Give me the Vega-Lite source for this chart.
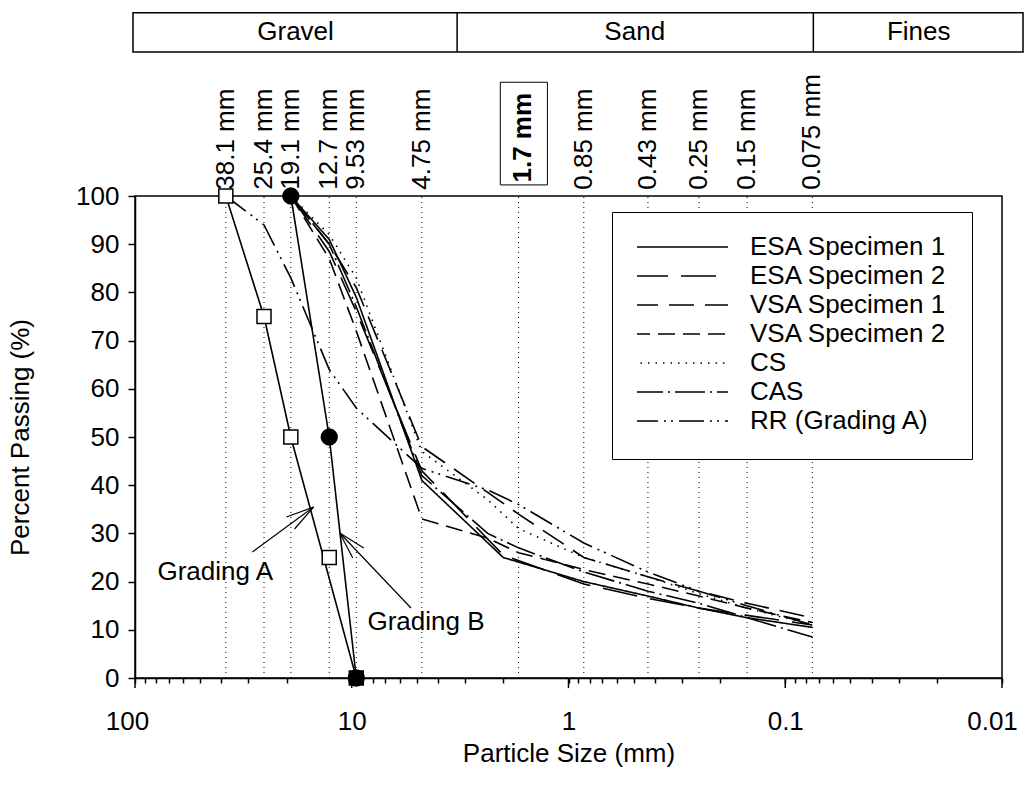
{
  "$schema": "https://vega.github.io/schema/vega-lite/v6.json",
  "autosize": {"type": "none"},
  "padding": {"left": 135, "top": 196, "right": 23, "bottom": 112},
  "width": 867,
  "height": 482,
  "background": "white",
  "config": {
    "font": "Liberation Sans",
    "view": {"stroke": "black", "strokeWidth": 1.5},
    "axis": {"labelFont": "Liberation Sans", "titleFont": "Liberation Sans", "labelFontSize": 26, "titleFontSize": 26, "labelColor": "black", "titleColor": "black", "titleFontWeight": "normal", "domainColor": "black", "tickColor": "black", "domainWidth": 1.5, "tickWidth": 1.5, "grid": false},
    "text": {"font": "Liberation Sans", "fontSize": 26, "color": "black"}
  },
  "datasets": {
    "sieves": [
      {"size": 38.1, "label": "38.1 mm"},
      {"size": 25.4, "label": "25.4 mm"},
      {"size": 19.1, "label": "19.1 mm"},
      {"size": 12.7, "label": "12.7 mm"},
      {"size": 9.53, "label": "9.53 mm"},
      {"size": 4.75, "label": "4.75 mm"},
      {"size": 1.7, "label": "1.7 mm"},
      {"size": 0.85, "label": "0.85 mm"},
      {"size": 0.43, "label": "0.43 mm"},
      {"size": 0.25, "label": "0.25 mm"},
      {"size": 0.15, "label": "0.15 mm"},
      {"size": 0.075, "label": "0.075 mm"}
    ],
    "majors": [{"v": 100}, {"v": 10}, {"v": 1}, {"v": 0.1}, {"v": 0.01}],
    "curves": [
      {"series": "ESA Specimen 1", "size": 19.1, "pct": 100},
      {"series": "ESA Specimen 1", "size": 12.7, "pct": 91},
      {"series": "ESA Specimen 1", "size": 9.53, "pct": 79},
      {"series": "ESA Specimen 1", "size": 4.75, "pct": 41},
      {"series": "ESA Specimen 1", "size": 2.0, "pct": 25},
      {"series": "ESA Specimen 1", "size": 0.85, "pct": 20},
      {"series": "ESA Specimen 1", "size": 0.43, "pct": 17},
      {"series": "ESA Specimen 1", "size": 0.25, "pct": 14.5},
      {"series": "ESA Specimen 1", "size": 0.15, "pct": 12.5},
      {"series": "ESA Specimen 1", "size": 0.075, "pct": 10.5},
      {"series": "ESA Specimen 2", "size": 19.1, "pct": 100},
      {"series": "ESA Specimen 2", "size": 12.7, "pct": 88.5},
      {"series": "ESA Specimen 2", "size": 9.53, "pct": 76},
      {"series": "ESA Specimen 2", "size": 4.75, "pct": 43},
      {"series": "ESA Specimen 2", "size": 2.0, "pct": 25.5},
      {"series": "ESA Specimen 2", "size": 0.85, "pct": 19.5},
      {"series": "ESA Specimen 2", "size": 0.43, "pct": 16.5},
      {"series": "ESA Specimen 2", "size": 0.25, "pct": 14.5},
      {"series": "ESA Specimen 2", "size": 0.15, "pct": 13},
      {"series": "ESA Specimen 2", "size": 0.075, "pct": 11},
      {"series": "VSA Specimen 1", "size": 19.1, "pct": 100},
      {"series": "VSA Specimen 1", "size": 12.7, "pct": 90},
      {"series": "VSA Specimen 1", "size": 9.53, "pct": 81},
      {"series": "VSA Specimen 1", "size": 4.75, "pct": 48},
      {"series": "VSA Specimen 1", "size": 2.36, "pct": 38.5},
      {"series": "VSA Specimen 1", "size": 1.7, "pct": 34},
      {"series": "VSA Specimen 1", "size": 0.85, "pct": 25},
      {"series": "VSA Specimen 1", "size": 0.43, "pct": 21},
      {"series": "VSA Specimen 1", "size": 0.25, "pct": 18},
      {"series": "VSA Specimen 1", "size": 0.15, "pct": 15.5},
      {"series": "VSA Specimen 1", "size": 0.075, "pct": 12.5},
      {"series": "VSA Specimen 2", "size": 19.1, "pct": 100},
      {"series": "VSA Specimen 2", "size": 12.7, "pct": 87},
      {"series": "VSA Specimen 2", "size": 9.53, "pct": 72},
      {"series": "VSA Specimen 2", "size": 4.75, "pct": 33},
      {"series": "VSA Specimen 2", "size": 2.36, "pct": 29},
      {"series": "VSA Specimen 2", "size": 1.7, "pct": 26},
      {"series": "VSA Specimen 2", "size": 0.85, "pct": 22.5},
      {"series": "VSA Specimen 2", "size": 0.43, "pct": 19.5},
      {"series": "VSA Specimen 2", "size": 0.25, "pct": 17},
      {"series": "VSA Specimen 2", "size": 0.15, "pct": 14.5},
      {"series": "VSA Specimen 2", "size": 0.075, "pct": 11.5},
      {"series": "CS", "size": 19.1, "pct": 100},
      {"series": "CS", "size": 12.7, "pct": 92},
      {"series": "CS", "size": 9.53, "pct": 83},
      {"series": "CS", "size": 4.75, "pct": 47},
      {"series": "CS", "size": 2.36, "pct": 37},
      {"series": "CS", "size": 1.7, "pct": 31},
      {"series": "CS", "size": 0.85, "pct": 25},
      {"series": "CS", "size": 0.43, "pct": 21},
      {"series": "CS", "size": 0.25, "pct": 17.5},
      {"series": "CS", "size": 0.15, "pct": 14.5},
      {"series": "CS", "size": 0.075, "pct": 11},
      {"series": "CAS", "size": 19.1, "pct": 100},
      {"series": "CAS", "size": 12.7, "pct": 90},
      {"series": "CAS", "size": 9.53, "pct": 77},
      {"series": "CAS", "size": 4.75, "pct": 42},
      {"series": "CAS", "size": 2.36, "pct": 30},
      {"series": "CAS", "size": 1.7, "pct": 27},
      {"series": "CAS", "size": 0.85, "pct": 22},
      {"series": "CAS", "size": 0.43, "pct": 18},
      {"series": "CAS", "size": 0.25, "pct": 15.5},
      {"series": "CAS", "size": 0.15, "pct": 12.5},
      {"series": "CAS", "size": 0.075, "pct": 8.5},
      {"series": "RR (Grading A)", "size": 38.1, "pct": 100},
      {"series": "RR (Grading A)", "size": 25.4, "pct": 94},
      {"series": "RR (Grading A)", "size": 19.1, "pct": 83},
      {"series": "RR (Grading A)", "size": 12.7, "pct": 64},
      {"series": "RR (Grading A)", "size": 9.53, "pct": 56},
      {"series": "RR (Grading A)", "size": 4.75, "pct": 43.5},
      {"series": "RR (Grading A)", "size": 2.36, "pct": 39},
      {"series": "RR (Grading A)", "size": 1.7, "pct": 36},
      {"series": "RR (Grading A)", "size": 0.85, "pct": 28},
      {"series": "RR (Grading A)", "size": 0.43, "pct": 22},
      {"series": "RR (Grading A)", "size": 0.25, "pct": 18},
      {"series": "RR (Grading A)", "size": 0.15, "pct": 15},
      {"series": "RR (Grading A)", "size": 0.075, "pct": 11}
    ],
    "gradingLines": [
      {"grading": "A", "size": 38.1, "pct": 100},
      {"grading": "A", "size": 25.4, "pct": 75},
      {"grading": "A", "size": 19.1, "pct": 50},
      {"grading": "A", "size": 9.53, "pct": 0},
      {"grading": "B", "size": 19.1, "pct": 100},
      {"grading": "B", "size": 12.7, "pct": 50},
      {"grading": "B", "size": 9.53, "pct": 0}
    ],
    "gradingA": [
      {"size": 38.1, "pct": 100},
      {"size": 25.4, "pct": 75},
      {"size": 19.1, "pct": 50},
      {"size": 12.7, "pct": 25},
      {"size": 9.53, "pct": 0}
    ],
    "gradingB": [
      {"size": 19.1, "pct": 100},
      {"size": 12.7, "pct": 50},
      {"size": 9.53, "pct": 0}
    ],
    "zones": [
      {"zone": "Gravel", "mid": 18.17},
      {"zone": "Sand", "mid": 0.4948},
      {"zone": "Fines", "mid": 0.02423}
    ]
  },
  "layer": [
    {
      "data": {"name": "sieves"},
      "mark": {"type": "rule", "strokeDash": [1, 4], "strokeWidth": 1, "color": "black"},
      "encoding": {
        "x": {"field": "size", "type": "quantitative",
          "scale": {"type": "log", "domain": [0.01, 100], "reverse": true, "nice": false},
          "title": "Particle Size (mm)",
          "axis": {"values": [100, 90, 80, 70, 60, 50, 40, 30, 20, 10, 9, 8, 7, 6, 5, 4, 3, 2, 1, 0.9, 0.8, 0.7, 0.6, 0.5, 0.4, 0.3, 0.2, 0.1, 0.09, 0.08, 0.07, 0.06, 0.05, 0.04, 0.03, 0.02, 0.01],
            "format": "~g",
            "labelExpr": "(datum.value === 100 || datum.value === 10 || datum.value === 1 || datum.value === 0.1 || datum.value === 0.01) ? datum.label : ''",
            "labelOffset": {"expr": "datum.value === 100 ? -8 : (datum.value === 0.01 ? -10 : 0)"},
            "tickSize": 5, "labelPadding": 25, "titlePadding": 6, "labelOverlap": false, "labelFlush": false, "labelBound": false}},
        "y": {"datum": 0, "type": "quantitative",
          "scale": {"domain": [0, 100], "nice": false}},
        "y2": {"datum": 100}
      }
    },
    {
      "data": {"name": "majors"},
      "mark": {"type": "rule", "strokeWidth": 1.5, "color": "black"},
      "encoding": {
        "x": {"field": "v", "type": "quantitative"},
        "y": {"datum": 0, "type": "quantitative"},
        "y2": {"datum": -2.1}
      }
    },
    {
      "data": {"name": "sieves"},
      "transform": [{"filter": "datum.label !== '1.7 mm'"}],
      "mark": {"type": "text", "angle": 270, "align": "left", "baseline": "middle", "fontSize": 26},
      "encoding": {
        "x": {"field": "size", "type": "quantitative"},
        "y": {"datum": 101.3, "type": "quantitative"},
        "text": {"field": "label"}
      }
    },
    {
      "data": {"name": "sieves"},
      "transform": [{"filter": "datum.label === '1.7 mm'"}],
      "mark": {"type": "text", "angle": 270, "align": "left", "baseline": "middle", "fontSize": 26, "fontWeight": "bold", "dx": 0, "dy": 4},
      "encoding": {
        "x": {"field": "size", "type": "quantitative"},
        "y": {"datum": 102.8, "type": "quantitative"},
        "text": {"field": "label"}
      }
    },
    {
      "data": {"values": [{}]},
      "mark": {"type": "rect", "fill": "transparent", "stroke": "black", "strokeWidth": 1},
      "encoding": {
        "x": {"datum": 2.064, "type": "quantitative"},
        "x2": {"datum": 1.251},
        "y": {"datum": 123.6, "type": "quantitative"},
        "y2": {"datum": 102.3}
      }
    },
    {
      "data": {"values": [{}]},
      "mark": {"type": "rect", "fill": "white", "stroke": "black", "strokeWidth": 1.5},
      "encoding": {
        "x": {"datum": 102.15, "type": "quantitative"},
        "x2": {"datum": 0.008},
        "y": {"datum": 138.0, "type": "quantitative"},
        "y2": {"datum": 129.9}
      }
    },
    {
      "data": {"values": [{}]},
      "mark": {"type": "rule", "strokeWidth": 1.5, "color": "black"},
      "encoding": {
        "x": {"datum": 3.265, "type": "quantitative"},
        "y": {"datum": 138.0, "type": "quantitative"},
        "y2": {"datum": 129.9}
      }
    },
    {
      "data": {"values": [{}]},
      "mark": {"type": "rule", "strokeWidth": 1.5, "color": "black"},
      "encoding": {
        "x": {"datum": 0.0742, "type": "quantitative"},
        "y": {"datum": 138.0, "type": "quantitative"},
        "y2": {"datum": 129.9}
      }
    },
    {
      "data": {"name": "zones"},
      "mark": {"type": "text", "align": "center", "baseline": "middle", "fontSize": 26},
      "encoding": {
        "x": {"field": "mid", "type": "quantitative"},
        "y": {"datum": 134.0, "type": "quantitative"},
        "text": {"field": "zone"}
      }
    },
    {
      "data": {"name": "curves"},
      "mark": {"type": "line", "color": "black", "strokeWidth": 1.6},
      "encoding": {
        "x": {"field": "size", "type": "quantitative", "title": "Particle Size (mm)"},
        "y": {"field": "pct", "type": "quantitative", "title": "Percent Passing (%)",
          "axis": {"values": [0, 10, 20, 30, 40, 50, 60, 70, 80, 90, 100], "tickSize": 7, "labelPadding": 9, "titlePadding": 42}},
        "strokeDash": {"field": "series", "type": "nominal",
          "scale": {"domain": ["ESA Specimen 1", "ESA Specimen 2", "VSA Specimen 1", "VSA Specimen 2", "CS", "CAS", "RR (Grading A)"],
            "range": [[1, 0], [35, 13], [25, 11], [17, 8], [1.5, 6], [30, 5, 2, 5], [25, 6, 2, 5, 2, 6]]},
          "legend": {"orient": "none", "legendX": 477, "legendY": 16, "title": null, "symbolType": "stroke", "symbolSize": 9025, "symbolStrokeWidth": 1.6, "symbolStrokeColor": "black", "symbolOffset": -5, "clipHeight": 20, "rowPadding": 3, "labelOffset": 21, "labelFont": "Liberation Sans", "labelFontSize": 26, "labelColor": "black", "labelLimit": 400, "padding": 25, "strokeColor": "black", "fillColor": "white", "legendStrokeWidth": 1.5}}
      }
    },
    {
      "data": {"name": "gradingLines"},
      "mark": {"type": "line", "color": "black", "strokeWidth": 1.6},
      "encoding": {
        "x": {"field": "size", "type": "quantitative"},
        "y": {"field": "pct", "type": "quantitative", "title": "Percent Passing (%)"},
        "detail": {"field": "grading"}
      }
    },
    {
      "data": {"name": "gradingA"},
      "mark": {"type": "point", "shape": "square", "size": 196, "stroke": "black", "strokeWidth": 1.5, "opacity": 1},
      "encoding": {
        "x": {"field": "size", "type": "quantitative"},
        "y": {"field": "pct", "type": "quantitative", "title": "Percent Passing (%)"},
        "fill": {"condition": {"test": "datum.pct === 0", "value": "black"}, "value": "white"}
      }
    },
    {
      "data": {"name": "gradingB"},
      "mark": {"type": "point", "shape": "circle", "size": 300, "filled": true, "color": "black", "opacity": 1},
      "encoding": {
        "x": {"field": "size", "type": "quantitative"},
        "y": {"field": "pct", "type": "quantitative", "title": "Percent Passing (%)"}
      }
    },
    {
      "data": {"values": [{}]},
      "mark": {"type": "rule", "strokeWidth": 1.2, "color": "black"},
      "encoding": {"x": {"datum": 28.73, "type": "quantitative"}, "x2": {"datum": 14.99}, "y": {"datum": 26.14, "type": "quantitative"}, "y2": {"datum": 35.48}}
    },
    {
      "data": {"values": [{}]},
      "mark": {"type": "rule", "strokeWidth": 1.2, "color": "black"},
      "encoding": {"x": {"datum": 14.99, "type": "quantitative"}, "x2": {"datum": 20.0}, "y": {"datum": 35.48, "type": "quantitative"}, "y2": {"datum": 33.4}}
    },
    {
      "data": {"values": [{}]},
      "mark": {"type": "rule", "strokeWidth": 1.2, "color": "black"},
      "encoding": {"x": {"datum": 14.99, "type": "quantitative"}, "x2": {"datum": 18.36}, "y": {"datum": 35.48, "type": "quantitative"}, "y2": {"datum": 30.91}}
    },
    {
      "data": {"values": [{}]},
      "mark": {"type": "rule", "strokeWidth": 1.2, "color": "black"},
      "encoding": {"x": {"datum": 5.33, "type": "quantitative"}, "x2": {"datum": 11.36}, "y": {"datum": 14.52, "type": "quantitative"}, "y2": {"datum": 30.08}}
    },
    {
      "data": {"values": [{}]},
      "mark": {"type": "rule", "strokeWidth": 1.2, "color": "black"},
      "encoding": {"x": {"datum": 11.36, "type": "quantitative"}, "x2": {"datum": 8.8}, "y": {"datum": 30.08, "type": "quantitative"}, "y2": {"datum": 26.97}}
    },
    {
      "data": {"values": [{}]},
      "mark": {"type": "rule", "strokeWidth": 1.2, "color": "black"},
      "encoding": {"x": {"datum": 11.36, "type": "quantitative"}, "x2": {"datum": 9.89}, "y": {"datum": 30.08, "type": "quantitative"}, "y2": {"datum": 24.9}}
    },
    {
      "data": {"values": [{}]},
      "mark": {"type": "text", "align": "center", "baseline": "middle", "fontSize": 26, "text": "Grading A"},
      "encoding": {"x": {"datum": 42.62, "type": "quantitative"}, "y": {"datum": 21.99, "type": "quantitative"}}
    },
    {
      "data": {"values": [{}]},
      "mark": {"type": "text", "align": "center", "baseline": "middle", "fontSize": 26, "text": "Grading B"},
      "encoding": {"x": {"datum": 4.545, "type": "quantitative"}, "y": {"datum": 11.62, "type": "quantitative"}}
    }
  ]
}
